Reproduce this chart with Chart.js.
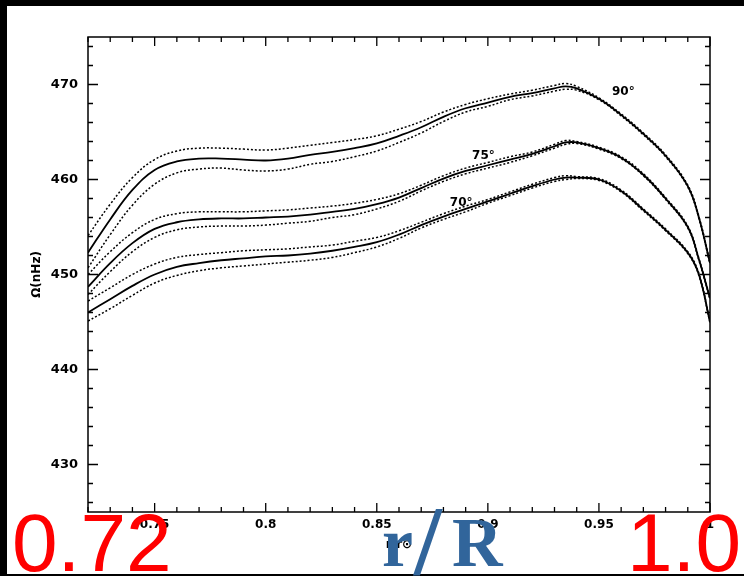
<!DOCTYPE html>
<html>
<head>
<meta charset="utf-8">
<script src="https://cdn.jsdelivr.net/npm/chart.js@4/dist/chart.umd.min.js"></script>
<style>
  body { margin: 0; background: #000; width: 744px; height: 576px; overflow: hidden; position: relative; }
  #paper { position: absolute; left: 7px; top: 6px; width: 737px; height: 568px; background: #fff; }
  #myChart { position: absolute; left: 0; top: 0; }
  .big { position: absolute; white-space: nowrap; line-height: 1; }
  .red { color: #ff0000; font-family: "Liberation Sans", Arial, sans-serif; font-size: 82px; }
  .blue { color: #31659b; font-family: "Liberation Serif", "Times New Roman", serif; font-weight: bold; }
</style>
</head>
<body>
<div id="paper"></div>
<canvas id="myChart" width="744" height="576"></canvas>
<div class="big red" style="left:12px; top:502px;">0.72</div>
<div class="big red" style="right:3px; top:502px;">1.0</div>
<div class="big blue" style="left:382px; top:508px; font-size:70px;">r</div>
<div class="big blue" style="left:414px; top:491px; font-size:100px;">/</div>
<div class="big blue" style="left:452px; top:508px; font-size:70px;">R</div>
<script>
// radius r/R
var radius = [0.72, 0.73, 0.74, 0.75, 0.76, 0.77, 0.78, 0.79, 0.80, 0.81, 0.82, 0.83, 0.84, 0.85, 0.86,
    0.87, 0.88, 0.89, 0.90, 0.91, 0.92, 0.93, 0.935, 0.94, 0.95, 0.96, 0.97, 0.98, 0.99, 0.995, 1.0];

// rotation rate (nHz), latitude 90
var omega90 = [452.3, 455.8, 458.9, 461.0, 461.9, 462.2, 462.2, 462.1, 462.0, 462.2, 462.6, 462.9, 463.3, 463.8, 464.6,
    465.5, 466.6, 467.5, 468.1, 468.7, 469.1, 469.6, 469.8, 469.6, 468.5, 466.8, 464.8, 462.5, 459.3, 456.0, 451.2];
var omega90Hi = [454.1, 457.4, 460.2, 462.1, 463.0, 463.3, 463.3, 463.2, 463.1, 463.3, 463.6, 463.9, 464.2, 464.6, 465.3,
    466.1, 467.1, 467.9, 468.5, 469.0, 469.4, 469.9, 470.1, 469.8, 468.6, 466.9, 464.9, 462.6, 459.4, 456.1, 451.3];
var omega90Lo = [450.7, 454.2, 457.3, 459.5, 460.7, 461.1, 461.2, 461.0, 460.9, 461.1, 461.6, 461.9, 462.4, 463.0, 463.9,
    464.9, 466.1, 467.1, 467.7, 468.4, 468.8, 469.3, 469.5, 469.4, 468.4, 466.7, 464.7, 462.4, 459.2, 455.9, 451.1];

// latitude 75
var omega75 = [448.7, 451.2, 453.3, 454.8, 455.5, 455.8, 455.9, 455.9, 456.0, 456.1, 456.3, 456.6, 456.9, 457.4, 458.1,
    459.1, 460.1, 460.9, 461.5, 462.1, 462.7, 463.5, 463.9, 463.9, 463.3, 462.3, 460.5, 458.0, 455.0, 451.6, 447.5];
var omega75Hi = [450.0, 452.4, 454.4, 455.8, 456.4, 456.6, 456.6, 456.6, 456.7, 456.8, 457.0, 457.2, 457.5, 457.9, 458.5,
    459.4, 460.4, 461.2, 461.8, 462.4, 462.9, 463.7, 464.1, 464.0, 463.4, 462.4, 460.6, 458.1, 455.1, 451.7, 447.6];
var omega75Lo = [447.9, 450.3, 452.4, 453.9, 454.7, 455.0, 455.1, 455.1, 455.2, 455.4, 455.6, 456.0, 456.3, 456.9, 457.7,
    458.8, 459.8, 460.6, 461.2, 461.8, 462.5, 463.3, 463.7, 463.8, 463.2, 462.2, 460.4, 457.9, 454.9, 451.5, 447.4];

// latitude 70
var omega70 = [446.0, 447.4, 448.8, 450.0, 450.8, 451.2, 451.5, 451.7, 451.9, 452.0, 452.2, 452.5, 452.9, 453.4, 454.2,
    455.2, 456.1, 456.9, 457.7, 458.5, 459.3, 460.0, 460.2, 460.2, 460.0, 458.8, 456.8, 454.7, 452.3, 450.0, 445.0];
var omega70Hi = [447.2, 448.6, 450.0, 451.1, 451.8, 452.1, 452.3, 452.5, 452.6, 452.7, 452.9, 453.1, 453.5, 453.9, 454.6,
    455.5, 456.4, 457.2, 457.9, 458.7, 459.5, 460.2, 460.4, 460.3, 460.1, 458.9, 456.9, 454.8, 452.4, 450.1, 445.1];
var omega70Lo = [445.1, 446.4, 447.8, 449.1, 449.9, 450.4, 450.7, 450.9, 451.1, 451.3, 451.5, 451.8, 452.3, 452.9, 453.8,
    454.9, 455.8, 456.6, 457.5, 458.3, 459.1, 459.8, 460.0, 460.1, 459.9, 458.7, 456.7, 454.6, 452.2, 449.9, 444.9];

// curve labels
var curveNames = ["90°", "75°", "70°"];
var nameR = [0.961, 0.898, 0.888];
var nameOmega = [469.2, 462.5, 457.5];

// tick labels
var rTicks = [0.75, 0.8, 0.85, 0.9, 0.95, 1];
var omegaTicks = [430, 440, 450, 460, 470];

function pts(ys) {
    var out = [];
    for (var i = 0; i < radius.length; i++) out.push({ x: radius[i], y: ys[i] });
    return out;
}

function line(ys, dotted) {
    return {
        data: pts(ys),
        borderColor: "#000",
        borderWidth: dotted ? 1.5 : 1.8,
        borderDash: dotted ? [2, 2] : [],
        pointRadius: 0,
        fill: false,
        tension: 0.4,
    };
}

// frame with inward ticks on all four sides
var framePlugin = {
    id: "frame",
    afterDatasetsDraw: function (chart) {
        var ctx = chart.ctx;
        var a = chart.chartArea;
        var xs = chart.scales.x;
        var ys = chart.scales.y;
        ctx.save();
        ctx.strokeStyle = "#000";
        ctx.lineWidth = 1.5;
        ctx.strokeRect(a.left, a.top, a.right - a.left, a.bottom - a.top);
        ctx.lineWidth = 1.3;
        ctx.beginPath();
        for (var i = 72; i <= 100; i++) {
            var px = xs.getPixelForValue(i / 100);
            var len = i % 5 === 0 ? 9 : 5;
            ctx.moveTo(px, a.bottom); ctx.lineTo(px, a.bottom - len);
            ctx.moveTo(px, a.top); ctx.lineTo(px, a.top + len);
        }
        for (var v = 426; v <= 474; v += 2) {
            var py = ys.getPixelForValue(v);
            var l2 = v % 10 === 0 ? 10 : 5;
            ctx.moveTo(a.left, py); ctx.lineTo(a.left + l2, py);
            ctx.moveTo(a.right, py); ctx.lineTo(a.right - l2, py);
        }
        ctx.stroke();

        ctx.fillStyle = "#000";
        ctx.font = "bold 12px 'DejaVu Sans'";
        ctx.textAlign = "center";
        ctx.textBaseline = "middle";
        for (var k = 0; k < curveNames.length; k++) {
            ctx.fillText(curveNames[k], xs.getPixelForValue(nameR[k]), ys.getPixelForValue(nameOmega[k]));
        }
        ctx.restore();
    },
};

var config = {
    type: "line",
    data: {
        datasets: [
            line(omega90Hi, true), line(omega90Lo, true),
            line(omega75Hi, true), line(omega75Lo, true),
            line(omega70Hi, true), line(omega70Lo, true),
            line(omega90, false), line(omega75, false), line(omega70, false),
        ],
    },
    options: {
        responsive: false,
        animation: false,
        devicePixelRatio: 1,
        layout: { padding: { top: 37, right: 34, left: 0, bottom: 0 } },
        plugins: { legend: { display: false }, tooltip: { enabled: false } },
        scales: {
            x: {
                type: "linear",
                min: 0.72,
                max: 1.0,
                grid: { display: false, drawTicks: false },
                border: { display: false },
                afterBuildTicks: function (s) { s.ticks = rTicks.map(function (v) { return { value: v }; }); },
                afterFit: function (s) { s.height = 64; },
                ticks: {
                    padding: 6,
                    color: "#000",
                    font: { family: "DejaVu Sans", weight: "bold", size: 12 },
                    callback: function (v) { return String(v); },
                },
                title: {
                    display: true,
                    text: "r/r⊙",
                    color: "#000",
                    font: { family: "DejaVu Sans", weight: "bold", size: 12 },
                    padding: { top: 0, bottom: 24 },
                },
            },
            y: {
                min: 425,
                max: 475,
                grid: { display: false, drawTicks: false },
                border: { display: false },
                afterBuildTicks: function (s) { s.ticks = omegaTicks.map(function (v) { return { value: v }; }); },
                afterFit: function (s) { s.width = 88; },
                ticks: {
                    padding: 10,
                    color: "#000",
                    font: { family: "DejaVu Sans", weight: "bold", size: 13 },
                    callback: function (v) { return String(v); },
                },
                title: {
                    display: true,
                    text: "Ω(nHz)",
                    color: "#000",
                    font: { family: "DejaVu Sans", weight: "bold", size: 12 },
                    padding: { top: 30, bottom: 0 },
                },
            },
        },
    },
    plugins: [framePlugin],
};

var myChart = new Chart(document.getElementById("myChart"), config);
</script>
</body>
</html>
